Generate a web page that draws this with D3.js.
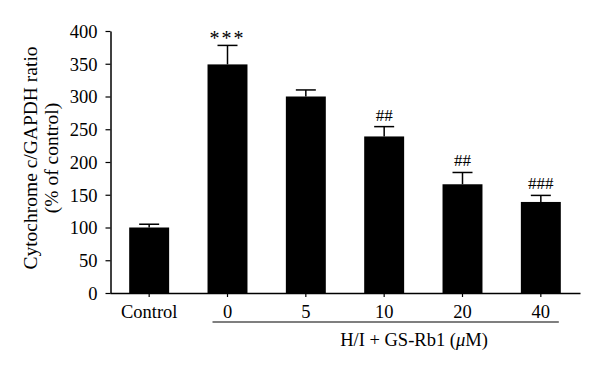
<!DOCTYPE html>
<html><head><meta charset="utf-8">
<script src="https://cdn.jsdelivr.net/npm/d3@7"></script>
<style>body{margin:0;background:#fff}svg{display:block}text{font-family:"Liberation Serif","DejaVu Serif",serif;fill:#000}</style>
</head><body>
<svg id="c" width="600" height="372"></svg>
<script>
const categories = ["Control", "0", "5", "10", "20", "40"];
const values = [100, 349, 300, 239, 166, 139];
const errors = [5, 29, 10, 15, 18, 10];
const marks = ["", "***", "", "##", "##", "###"];
const yTicks = [0, 50, 100, 150, 200, 250, 300, 350, 400];
const groupLabel = "H/I + GS-Rb1 (";

const svg = d3.select("#c");
const x = d3.scaleBand().domain(categories).range([110, 580]).paddingInner(0.49).paddingOuter(0.245);
const y = d3.scaleLinear().domain([0, 400]).range([293, 31]);

const fs = 18.5;
// y axis
const ya = svg.append("g").attr("transform", "translate(110.5,0)")
  .call(d3.axisLeft(y).tickValues(yTicks).tickSize(5).tickSizeOuter(0).tickPadding(8));
ya.select(".domain").attr("stroke", "#000").attr("stroke-width", 1.5);
ya.selectAll(".tick line").attr("stroke", "#000").attr("stroke-width", 1.2);
ya.selectAll(".tick text").attr("font-size", fs).attr("font-family", '"Liberation Serif",serif').attr("fill", "#000").attr("dy", "0.34em");

// x axis
const xa = svg.append("g").attr("transform", "translate(0,293)")
  .call(d3.axisBottom(x).tickSize(4).tickSizeOuter(0).tickPadding(0));
xa.select(".domain").attr("stroke", "#000").attr("stroke-width", 1.5);
xa.selectAll(".tick line").attr("stroke", "#000").attr("stroke-width", 1.2);
xa.selectAll(".tick text").attr("font-size", fs).attr("font-family", '"Liberation Serif",serif').attr("fill", "#000").attr("y", 25).attr("dy", 0);

// bars
svg.append("g").selectAll("rect").data(categories).join("rect")
  .attr("x", d => x(d)).attr("width", x.bandwidth())
  .attr("y", (d, i) => y(values[i])).attr("height", (d, i) => y(0) - y(values[i]))
  .attr("fill", "#000");

// error bars
const eb = svg.append("g").attr("stroke", "#000").attr("stroke-width", 1.5);
categories.forEach((c, i) => {
  const cx = x(c) + x.bandwidth() / 2;
  eb.append("line").attr("x1", cx).attr("x2", cx).attr("y1", y(values[i])).attr("y2", y(values[i] + errors[i]));
  eb.append("line").attr("x1", cx - 10).attr("x2", cx + 10).attr("y1", y(values[i] + errors[i])).attr("y2", y(values[i] + errors[i]));
});

// significance marks
svg.append("g").selectAll("text").data(categories).join("text")
  .attr("x", d => x(d) + x.bandwidth() / 2)
  .attr("y", (d, i) => y(values[i] + errors[i]) - (marks[i] === "***" ? 0 : 6))
  .attr("text-anchor", "middle").attr("font-size", (d, i) => marks[i] === "***" ? 20 : 17)
  .attr("letter-spacing", (d, i) => marks[i] === "***" ? 2 : 0)
  .text((d, i) => marks[i]);

// group underline and label
const gx1 = x("0") + x.bandwidth() / 2 - 15, gx2 = x("40") + x.bandwidth() / 2 + 18;
svg.append("line").attr("x1", gx1).attr("x2", gx2).attr("y1", 322).attr("y2", 322).attr("stroke", "#000").attr("stroke-width", 1.2);
const gl = svg.append("text").attr("x", 414).attr("y", 346).attr("text-anchor", "middle").attr("font-size", fs);
gl.append("tspan").text(groupLabel);
gl.append("tspan").attr("font-style", "italic").text("μ");
gl.append("tspan").text("M)");

// y title
const yt = svg.append("text").attr("transform", "translate(37,158) rotate(-90)").attr("text-anchor", "middle").attr("font-size", 19.5);
yt.append("tspan").attr("x", 0).attr("dy", 0).text("Cytochrome c/GAPDH ratio");
yt.append("tspan").attr("x", 0).attr("dy", 21).text("(% of control)");
</script>
</body></html>
